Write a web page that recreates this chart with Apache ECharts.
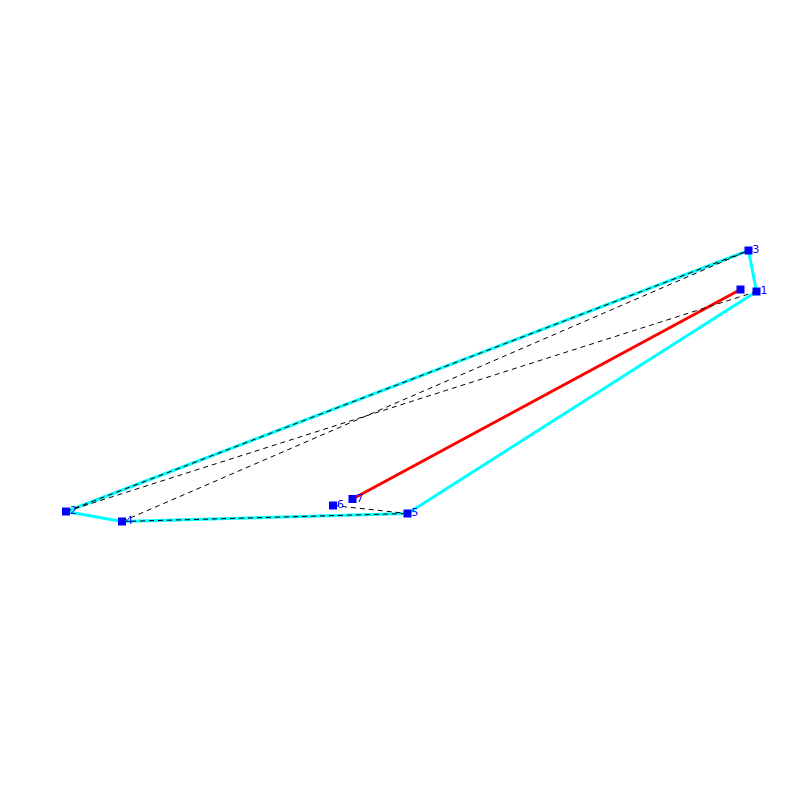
<!DOCTYPE html>
<html>
<head>
<meta charset="utf-8">
<style>
html, body { margin: 0; padding: 0; background: #fff; }
#box { width: 800px; height: 800px; }
</style>
<script src="https://cdn.jsdelivr.net/npm/echarts@6/dist/echarts.min.js"></script>
</head>
<body>
<div id="box"></div>
<script>
// points
var pointX = [756.5, 66, 748.5, 122, 407.5, 333, 352.5, 740.5];
var pointY = [291.5, 511.5, 250.5, 521.5, 513.5, 505.5, 499, 289.5];
var pointNames = ['1', '2', '3', '4', '5', '6', '7', ''];

// paths, as indexes into the point lists
var hullPath = [0, 2, 1, 3, 4, 0];
var redPath = [6, 7];
var dashedPaths = [[1, 2], [1, 0], [3, 2], [3, 4], [5, 4]];

function coords(path) {
    return path.map(function(i) {
        return [pointX[i], pointY[i]];
    });
}

function lineSeries(path, color, width, type, z) {
    return {
        type: 'line',
        data: coords(path),
        symbol: 'none',
        silent: true,
        z: z,
        lineStyle: { color: color, width: width, type: type }
    };
}

var series = [];
series.push(lineSeries(hullPath, '#00ffff', 3, 'solid', 2));
series.push(lineSeries(redPath, '#ff0000', 3, 'solid', 3));
dashedPaths.forEach(function(p) {
    series.push(lineSeries(p, '#000000', 1, [5, 4], 4));
});
//方块和编号
series.push({
    type: 'scatter',
    symbol: 'rect',
    symbolSize: 8,
    z: 10,
    itemStyle: { color: '#0000ff', opacity: 1 },
    data: pointX.map(function(x, i) {
        return { value: [x, pointY[i]], name: pointNames[i] };
    }),
    label: {
        show: true,
        position: 'right',
        distance: 0,
        color: '#0000ff',
        fontSize: 11,
        fontFamily: 'DejaVu Sans',
        textBorderWidth: 0,
        formatter: '{b}'
    }
});

var myChart = echarts.init(document.getElementById('box'));
myChart.setOption({
    animation: false,
    backgroundColor: '#ffffff',
    grid: { left: 0, right: 0, top: 0, bottom: 0 },
    xAxis: { type: 'value', min: 0, max: 800, show: false },
    yAxis: { type: 'value', min: 0, max: 800, inverse: true, show: false },
    series: series
});
</script>
</body>
</html>
